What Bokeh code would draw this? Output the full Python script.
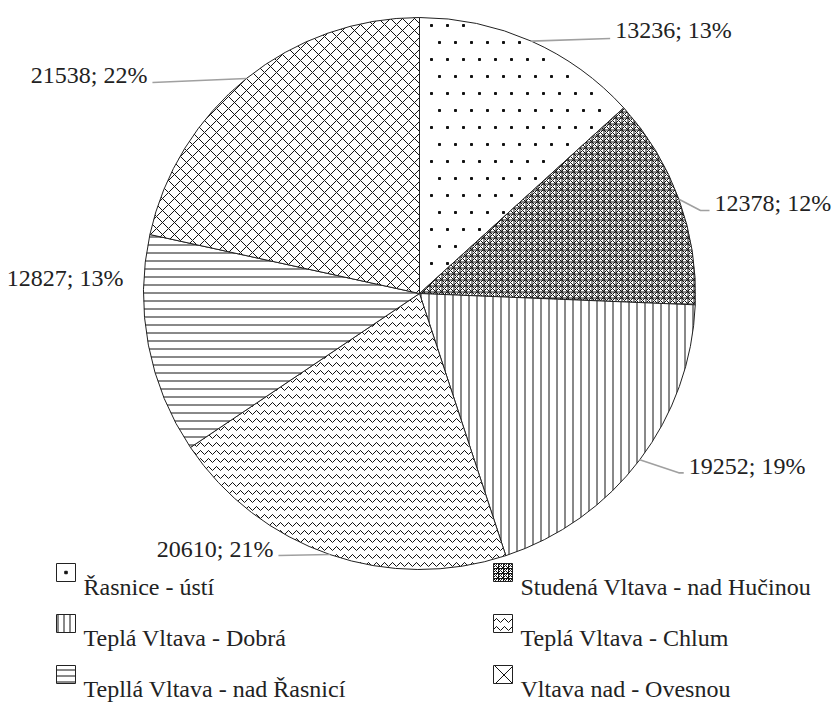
import numpy as np
from bokeh.plotting import figure
from bokeh.models import Range1d
from bokeh.embed import file_html
from bokeh.resources import INLINE
from bokeh.core.properties import value

# ---- data ----
names = ["Řasnice - ústí", "Studená Vltava - nad Hučinou", "Teplá Vltava - Dobrá",
         "Teplá Vltava - Chlum", "Tepllá Vltava - nad Řasnicí", "Vltava nad - Ovesnou"]
values = [13236, 12378, 19252, 20610, 12827, 21538]

# ---- style ----
patterns = [None, "criss_cross", "vertical_line", "horizontal_wave", "horizontal_line", "diagonal_cross"]
scales = [16, 6, 8, 8, 8, 12]
icon_scales = [19, 5, 6, 8, 6, 19]
FONT = "Liberation Serif"
FSIZE = 24
FS = f"{FSIZE}px"
TXT = "#222222"
EM = {";": 0.278, " ": 0.25, "%": 0.833}

def text_width(s):
    return sum(EM.get(c, 0.5) for c in s) * FSIZE

# label placement relative to slice edge point (page pixel offsets)
lab_off = [(84, -11), (35.6, 4), (49, 6), (-56.5, -6), (-25, -67), (-99, -3)]
lab_align = ["left", "left", "left", "right", "right", "right"]
leader_pts = [[(79, -2.6)], [(21.6, 11.2), (30.6, 11.2)], [(39, 13), (44, 13)],
              [(-51.5, 1)], [], [(-94, 4)]]

p = figure(width=836, height=704, x_range=Range1d(0, 836), y_range=Range1d(-704, 0),
           output_backend="svg", toolbar_location=None, min_border=0,
           x_axis_type=None, y_axis_type=None)
p.grid.visible = False
p.outline_line_color = "white"

total = float(sum(values))
frac = np.array(values) / total
cum = np.concatenate([[0.0], np.cumsum(frac)])
start = np.pi / 2 - 2 * np.pi * cum[:-1]
end = np.pi / 2 - 2 * np.pi * cum[1:]
mid = (start + end) / 2
CX, CY, R = 419, -293, 276

for i in range(len(values)):
    p.wedge(x=CX, y=CY, radius=R, start_angle=float(start[i]), end_angle=float(end[i]),
            direction="clock", fill_color="white", line_color="#222222",
            hatch_pattern=patterns[i], hatch_scale=scales[i],
            hatch_weight=1, hatch_color="#111111")

# fine dotted texture for the first slice (grid points inside its angular range)
gx, gy = np.meshgrid(np.arange(CX - R, CX + R, 16.0), np.arange(CY - R, CY + R, 17.0))
gx = gx + (np.round((gy - CY) / 17.0) % 2) * 8.0
gx, gy = gx.ravel(), gy.ravel()
rr = np.hypot(gx - CX, gy - CY)
ang = (np.pi / 2 - np.arctan2(gy - CY, gx - CX)) % (2 * np.pi) / (2 * np.pi)
inside = (rr < R - 4) & (rr > 8) & (ang > cum[0] + 0.004) & (ang < cum[1] - 0.004)
inside &= (gx - CX) > 4
p.scatter(gx[inside].tolist(), gy[inside].tolist(), marker="square", size=2, color="#111111")

# labels with leader lines
for i, v in enumerate(values):
    ex = float(CX + R * np.cos(mid[i]))
    ey = float(CY + R * np.sin(mid[i]))
    if leader_pts[i]:
        xs = [ex] + [ex + dx for dx, dy in leader_pts[i]]
        ys = [ey] + [ey - dy for dx, dy in leader_pts[i]]
        p.line(xs, ys, line_color="#a0a0a0", line_width=1.6)
    pct = int(round(100 * v / total))
    label = f"{v}; {pct}%"
    tx = ex + lab_off[i][0]
    if lab_align[i] == "right":
        tx -= text_width(label)
    p.text(x=[tx], y=[ey - lab_off[i][1]], text=[label],
           text_font=value(FONT), text_font_size=FS, text_color=TXT,
           text_align="left", text_baseline="alphabetic")

# legend
icon_left = [56, 493]
text_left = [83, 520]
for k, name in enumerate(names):
    col, row = k % 2, k // 2
    top = 563 + 51 * row
    cxi, cyi = icon_left[col] + 9.5, -(top + 9)
    p.rect(x=cxi, y=cyi, width=19, height=18,
           fill_color="white", line_color="#222222",
           hatch_pattern=patterns[k], hatch_scale=icon_scales[k],
           hatch_weight=1, hatch_color="#111111")
    if patterns[k] is None:
        p.scatter([cxi], [cyi], marker="square", size=2.5, color="#111111")
    p.text(x=[text_left[col]], y=[-(586 + 51 * row)], text=[name],
           text_font=value(FONT), text_font_size=FS, text_color=TXT,
           text_align="left", text_baseline="alphabetic")

open("out.html", "w").write(file_html(p, INLINE))
